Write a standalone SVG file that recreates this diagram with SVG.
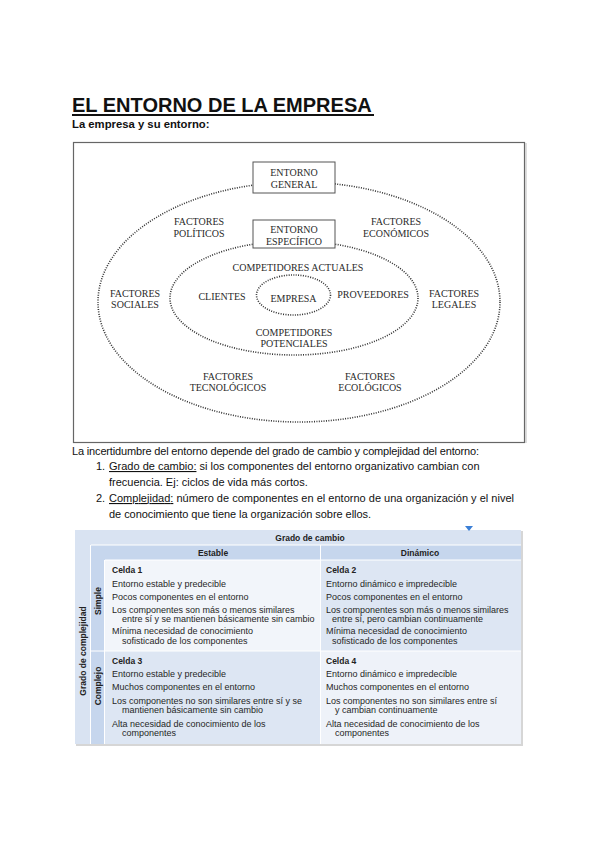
<svg xmlns="http://www.w3.org/2000/svg" width="600" height="848" viewBox="0 0 600 848">
<style>
.sans{font-family:"Liberation Sans",Arial,sans-serif;fill:#111}
.serif{font-family:"Liberation Serif","Times New Roman",serif;fill:#2a2a2a;font-size:10px;text-anchor:middle}
.dot{fill:none;stroke:#333;stroke-width:1.6;stroke-dasharray:1 1.4}
.box{fill:#fff;stroke:#555;stroke-width:1}
.tb{font-family:"Liberation Sans",Arial,sans-serif;font-size:9px;fill:#262626}
.tbb{font-family:"Liberation Sans",Arial,sans-serif;font-size:8.5px;font-weight:bold;fill:#222}
</style>
<rect width="600" height="848" fill="#fff"/>
<g id="titulo">
<text class="sans" x="72" y="112" font-size="20" font-weight="bold">EL ENTORNO DE LA EMPRESA</text>
<rect x="72" y="114" width="302" height="2" fill="#111"/>
</g>
<text id="subtitulo" class="sans" x="72" y="128" font-size="11.3" font-weight="bold">La empresa y su entorno:</text>
<g id="diagrama">
<rect x="73.5" y="142.5" width="451" height="300" fill="#fff" stroke="#666" stroke-width="1.2"/>
<line x1="526" y1="143" x2="526" y2="443" stroke="#bbb" stroke-width="1"/>
<g id="conectores">
<ellipse class="dot" cx="299" cy="302" rx="201" ry="120"/>
<ellipse class="dot" cx="294" cy="298" rx="124" ry="57"/>
<ellipse class="dot" cx="293.5" cy="295" rx="37" ry="20"/>
</g>
<g id="entorno-general">
<rect class="box" x="253" y="162" width="82" height="31"/>
<text class="serif" x="294" y="176">ENTORNO</text>
<text class="serif" x="294" y="188">GENERAL</text>
</g>
<g id="entorno-especifico">
<rect class="box" x="253" y="220" width="82" height="28"/>
<text class="serif" x="294" y="233">ENTORNO</text>
<text class="serif" x="294" y="245">ESPECÍFICO</text>
</g>
<g id="empresa"><text class="serif" x="293.5" y="302" font-size="11">EMPRESA</text></g>
<g id="f-politicos"><text class="serif" x="199" y="225">FACTORES</text><text class="serif" x="199" y="237">POLÍTICOS</text></g>
<g id="f-economicos"><text class="serif" x="396" y="225">FACTORES</text><text class="serif" x="396" y="237">ECONÓMICOS</text></g>
<g id="competidores-actuales"><text class="serif" x="298" y="271">COMPETIDORES ACTUALES</text></g>
<g id="f-sociales"><text class="serif" x="135" y="297">FACTORES</text><text class="serif" x="135" y="308">SOCIALES</text></g>
<g id="clientes"><text class="serif" x="222" y="300">CLIENTES</text></g>
<g id="proveedores"><text class="serif" x="373" y="298">PROVEEDORES</text></g>
<g id="f-legales"><text class="serif" x="454" y="297">FACTORES</text><text class="serif" x="454" y="308">LEGALES</text></g>
<g id="competidores-potenciales"><text class="serif" x="294" y="336">COMPETIDORES</text><text class="serif" x="294" y="347">POTENCIALES</text></g>
<g id="f-tecnologicos"><text class="serif" x="228" y="380">FACTORES</text><text class="serif" x="228" y="391">TECNOLÓGICOS</text></g>
<g id="f-ecologicos"><text class="serif" x="370" y="380">FACTORES</text><text class="serif" x="370" y="391">ECOLÓGICOS</text></g>
</g>
<g id="parrafo">
<text class="sans" x="72" y="455" font-size="11" textLength="407">La incertidumbre del entorno depende del grado de cambio y complejidad del entorno:</text>
<text class="sans" x="96" y="470" font-size="11">1.</text>
<text class="sans" x="109" y="470" font-size="11"><tspan text-decoration="underline">Grado de cambio:</tspan> si los componentes del entorno organizativo cambian con</text>
<text class="sans" x="109" y="486" font-size="11">frecuencia. Ej: ciclos de vida más cortos.</text>
<text class="sans" x="96" y="502" font-size="11">2.</text>
<text class="sans" x="109" y="502" font-size="11" textLength="405"><tspan text-decoration="underline">Complejidad:</tspan> número de componentes en el entorno de una organización y el nivel</text>
<text class="sans" x="109" y="518" font-size="11" textLength="262">de conocimiento que tiene la organización sobre ellos.</text>
</g>
<g id="tabla">
<rect x="76" y="744" width="447" height="2" fill="#d6d6d6"/>
<rect x="521" y="531" width="2" height="214" fill="#d6d6d6"/>
<rect x="75" y="530" width="446" height="214" fill="#d9e3f2"/>
<rect x="91" y="545" width="430" height="15" fill="#c6d6ed"/>
<rect x="91" y="560" width="14" height="184" fill="#c6d6ed"/>
<rect x="105" y="560" width="215" height="91" fill="#f2f5fa"/>
<rect x="321" y="560" width="200" height="91" fill="#dde6f3"/>
<rect x="105" y="651" width="215" height="93" fill="#dde6f3"/>
<rect x="321" y="651" width="200" height="93" fill="#eef2f9"/>
<g stroke="#fff" stroke-width="1">
<line x1="91" y1="545" x2="521" y2="545"/>
<line x1="90.5" y1="545" x2="90.5" y2="744"/>
<line x1="105" y1="560" x2="521" y2="560"/>
<line x1="104.5" y1="560" x2="104.5" y2="744"/>
<line x1="320.5" y1="545" x2="320.5" y2="744"/>
<line x1="91" y1="651" x2="521" y2="651"/>
</g>
<path d="M465 526 L473 526 L469 531 Z" fill="#3b7fd6"/>
<text class="tbb" x="310" y="541" text-anchor="middle">Grado de cambio</text>
<text class="tbb" x="213" y="556" text-anchor="middle">Estable</text>
<text class="tbb" x="420" y="556" text-anchor="middle">Dinámico</text>
<text class="tbb" transform="translate(86 651) rotate(-90)" text-anchor="middle">Grado de complejidad</text>
<text class="tbb" transform="translate(101 601) rotate(-90)" text-anchor="middle">Simple</text>
<text class="tbb" transform="translate(101 686) rotate(-90)" text-anchor="middle">Complejo</text>
<g id="celda1">
<text class="tbb" x="112" y="573">Celda 1</text>
<text class="tb" x="112" y="586.5">Entorno estable y predecible</text>
<text class="tb" x="112" y="600">Pocos componentes en el entorno</text>
<text class="tb" x="112" y="612.5">Los componentes son más o menos similares</text>
<text class="tb" x="122" y="621.5">entre sí y se mantienen básicamente sin cambio</text>
<text class="tb" x="112" y="633.5">Mínima necesidad de conocimiento</text>
<text class="tb" x="122" y="643.5">sofisticado de los componentes</text>
</g>
<g id="celda2">
<text class="tbb" x="326" y="573">Celda 2</text>
<text class="tb" x="326" y="586.5">Entorno dinámico e impredecible</text>
<text class="tb" x="326" y="600">Pocos componentes en el entorno</text>
<text class="tb" x="326" y="612.5">Los componentes son más o menos similares</text>
<text class="tb" x="332" y="621.5">entre sí, pero cambian continuamente</text>
<text class="tb" x="326" y="633.5">Mínima necesidad de conocimiento</text>
<text class="tb" x="332" y="643.5">sofisticado de los componentes</text>
</g>
<g id="celda3">
<text class="tbb" x="112" y="664">Celda 3</text>
<text class="tb" x="112" y="677">Entorno estable y predecible</text>
<text class="tb" x="112" y="690">Muchos componentes en el entorno</text>
<text class="tb" x="112" y="704">Los componentes no son similares entre sí y se</text>
<text class="tb" x="122" y="713">mantienen básicamente sin cambio</text>
<text class="tb" x="112" y="727">Alta necesidad de conocimiento de los</text>
<text class="tb" x="122" y="736">componentes</text>
</g>
<g id="celda4">
<text class="tbb" x="326" y="664">Celda 4</text>
<text class="tb" x="326" y="677">Entorno dinámico e impredecible</text>
<text class="tb" x="326" y="690">Muchos componentes en el entorno</text>
<text class="tb" x="326" y="704">Los componentes no son similares entre sí</text>
<text class="tb" x="335" y="713">y cambian continuamente</text>
<text class="tb" x="326" y="727">Alta necesidad de conocimiento de los</text>
<text class="tb" x="335" y="736">componentes</text>
</g>
</g>
</svg>
